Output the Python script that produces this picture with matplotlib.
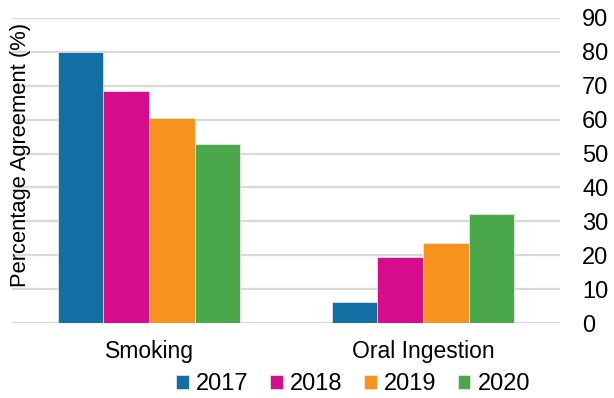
import matplotlib
matplotlib.use("Agg")
import matplotlib.pyplot as plt
import numpy as np

categories = ["Smoking", "Oral Ingestion"]
years = ["2017", "2018", "2019", "2020"]
values_2017 = [80.0, 6.3]
values_2018 = [68.4, 19.4]
values_2019 = [60.5, 23.6]
values_2020 = [52.8, 32.1]
yticks = [0, 10, 20, 30, 40, 50, 60, 70, 80, 90]

colors = ["#126fa3", "#d70c8c", "#f7921e", "#4ba84a"]

plt.rcParams["font.family"] = ["Liberation Sans", "DejaVu Sans"]

fig = plt.figure(figsize=(6.14, 3.98), dpi=100)
ax = fig.add_axes([12 / 614, 1 - 323 / 398, 548 / 614, 305 / 398])

series = [values_2017, values_2018, values_2019, values_2020]
x = np.arange(len(categories))
width = 0.1665
for i, (vals, col, yr) in enumerate(zip(series, colors, years)):
    ax.bar(x + (i - 1.5) * width, vals, width, color=col, label=yr,
           edgecolor="#eeeeee", linewidth=0.5, zorder=3)

ax.set_xlim(-0.5, 1.5)
ax.set_ylim(0, 90)
ax.set_yticks(yticks)
ax.yaxis.tick_right()
ax.tick_params(axis="y", length=0, pad=16, labelsize=17)
ax.tick_params(axis="x", length=0, pad=12)
ax.set_xticks(x)
ax.set_xticklabels(categories, fontsize=16.5)
ax.grid(axis="y", color="#d9d9d9", linewidth=1.6, zorder=0)
for s in ax.spines.values():
    s.set_visible(False)

fig.text(0.034, 0.61, "Percentage Agreement (%)", rotation=90,
         ha="center", va="center", fontsize=15.8)

ax.legend(loc="center", bbox_to_anchor=(353 / 614, 1 - 384 / 398),
          bbox_transform=fig.transFigure, ncol=4, frameon=False,
          fontsize=17, handlelength=0.55, handleheight=0.55,
          handletextpad=0.3, columnspacing=0.9, borderpad=0)

fig.savefig("out.png", dpi=100)
